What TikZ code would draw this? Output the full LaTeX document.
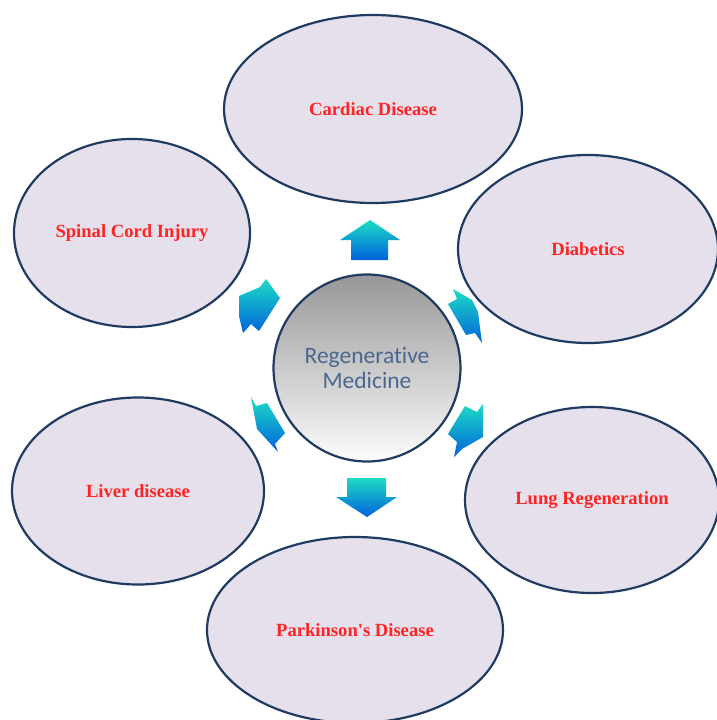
\documentclass[tikz,border=0pt]{standalone}
\usepackage{fontspec}
\setmainfont{Liberation Serif}
\newfontfamily\hubfont[Ligatures=NoCommon]{Carlito}
\usetikzlibrary{shapes.geometric}
\definecolor{ellfill}{HTML}{E6E0EC}
\definecolor{ellline}{HTML}{1F3B61}
\definecolor{labelred}{HTML}{FF2424}
\definecolor{hubtop}{HTML}{979797}
\definecolor{hubbot}{HTML}{FCFCFC}
\definecolor{hubtext}{HTML}{4A6790}
\definecolor{arrowtop}{HTML}{1DDCC4}
\definecolor{arrowbot}{HTML}{0062DC}

\begin{document}
\begin{tikzpicture}[
    x=1pt, y=-1pt,
    disease/.style={ellipse, draw=ellline, line width=2.2pt, fill=ellfill, inner sep=0pt,
      minimum height=188pt, text=labelred, font=\fontsize{18.6}{21}\selectfont\bfseries},
    hub/.style={circle, draw=ellline, line width=2.2pt, top color=hubtop, bottom color=hubbot,
      minimum size=187pt, inner sep=0pt, align=center, text=hubtext,
      font=\hubfont\fontsize{23.5}{25}\selectfont},
    blockarrow/.style={top color=arrowtop, bottom color=arrowbot}
  ]
  \useasboundingbox (0,0) rectangle (716,720);
  \fill[white] (0,0) rectangle (716,720);

  \node[hub] (regen) at (367,368) {Regenerative\\Medicine};

  \node[disease, minimum width=298pt] (cardiac) at (373,109) {Cardiac Disease};
  \node[disease, minimum width=236pt] (spinal) at (132,233) {Spinal Cord Injury};
  \node[disease, minimum width=260pt] (diabetics) at (588,249) {Diabetics};
  \node[disease, minimum width=254pt, minimum height=186pt] (lung) at (592,500) {Lung Regeneration};
  \node[disease, minimum width=252pt, minimum height=187pt] (liver) at (138,491) {Liver disease};
  \node[disease, minimum width=296pt, minimum height=186pt] (parkinson) at (355,630) {Parkinson\textquotesingle s Disease};

  % block arrows round the hub
  \path[blockarrow] (370,220) -- (400,240) -- (388,240) -- (388,260) -- (351,260) -- (351,240) -- (340,240) -- cycle;
  \path[blockarrow] (347,478) -- (386,478) -- (386,497) -- (397,497) -- (367,517) -- (336,497) -- (347,497) -- cycle;
  \path[blockarrow] (266,279) -- (280,298) -- (259,331) -- (251,324) -- (243,333) -- (239,316) -- (239,296) -- (260,287) -- cycle;
  \path[blockarrow] (453,289) -- (472,300) -- (478,312) -- (482,343) -- (475,333) -- (466,335) -- (448,304) -- (457,299) -- cycle;
  \path[blockarrow] (465,406) -- (477,412) -- (483,404) -- (483,437) -- (462,449) -- (454,457) -- (457,442) -- (448,434) -- cycle;
  \path[blockarrow] (251,397) -- (256,406) -- (267,403) -- (285,433) -- (275,444) -- (278,452) -- (257,429) -- cycle;
\end{tikzpicture}
\end{document}
